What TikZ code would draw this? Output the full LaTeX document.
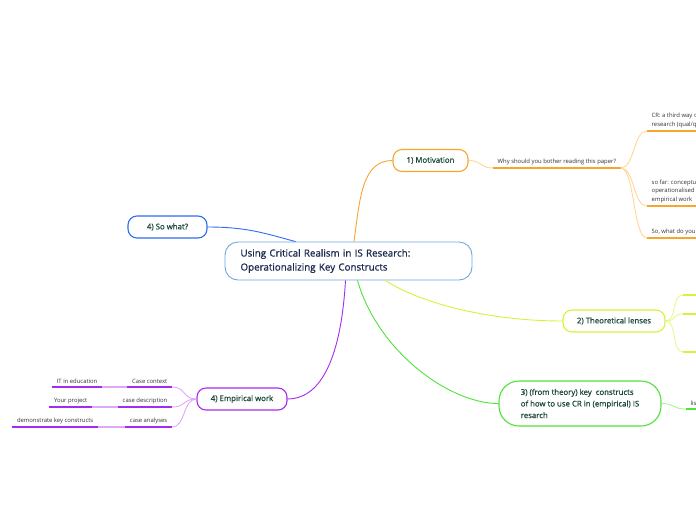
\documentclass[tikz,border=0pt]{standalone}
\usepackage{fontspec}
\setmainfont{Open Sans}
\newfontfamily\semibold{Open Sans}[FakeBold=0.9]
\definecolor{centreline}{HTML}{6FA8E0}
\definecolor{centretext}{HTML}{1C2B4F}
\definecolor{topictext}{HTML}{1D4A3E}
\definecolor{leaftext}{HTML}{333333}
\definecolor{motorange}{HTML}{F7A531}
\definecolor{motlight}{HTML}{FFD695}
\definecolor{whatblue}{HTML}{2F6BF2}
\definecolor{lensyellow}{HTML}{D6F23A}
\definecolor{lenslight}{HTML}{E8F78F}
\definecolor{keygreen}{HTML}{4FE23A}
\definecolor{keylight}{HTML}{A8F29A}
\definecolor{workpurple}{HTML}{A52CEE}
\definecolor{worklight}{HTML}{DCA9F7}
\begin{document}
\begin{tikzpicture}[x=1pt, y=-1pt,
	every node/.style={inner sep=0pt},
	centre/.style={rectangle, rounded corners=13pt, draw=centreline, line width=0.9pt, fill=white, text=centretext, font=\fontsize{9.8}{14}\semibold, align=left, text width=216pt, inner xsep=15.5pt, minimum height=38pt},
	topic/.style={rectangle, rounded corners=9pt, draw=#1, line width=1.1pt, fill=white, text=topictext, font=\fontsize{7.8}{11.6}\semibold, align=left, minimum height=22pt},
	leaf/.style={text=leaftext, font=\fontsize{5.9}{8.4}\selectfont, align=left, inner xsep=4.5pt, inner ysep=3pt},
	link/.style={draw=#1, line width=0.9pt},
	under/.style={draw=#1, line width=1.6pt},
]
\path [use as bounding box, clip] (0,0) rectangle (696,520);
\node [centre] (centre) at (348.5,261) {Using Critical Realism in IS Research:\\Operationalizing Key Constructs};
\node [topic=motorange, minimum width=75pt] (motivation) at (430.5,160.5) {1) Motivation};
\node [topic=whatblue, minimum width=79pt] (sowhat) at (167.5,227) {4) So what?};
\node [topic=lensyellow, minimum width=102pt] (lenses) at (614,321) {2) Theoretical lenses};
\node [topic=keygreen, minimum width=162pt, minimum height=45pt, rounded corners=20pt] (keys) at (580,403.5) {3) (from theory) key\ \ constructs\\of how to use CR in (empirical) IS\\resarch};
\node [topic=workpurple, minimum width=90pt] (work) at (242,399) {4) Empirical work};

\draw [link=motorange] ([xshift=5.5]centre.north) .. controls +(6,-45) and +(-30,0) .. (motivation.west);
\draw [link=whatblue] (sowhat.east) .. controls +(40,0) and +(-30,-8) .. ([xshift=-53]centre.north);
\draw [link=lensyellow] ([xshift=37]centre.south) .. controls +(30,20) and +(-80,0) .. (lenses.west);
\draw [link=keygreen] ([xshift=9]centre.south) .. controls +(20,70) and +(-50,0) .. (keys.west);
\draw [link=workpurple] ([xshift=-3]centre.south) .. controls +(-5,85) and +(30,0) .. (work.east);

\node [leaf, anchor=south west] (why) at (493,168) {Why should you bother reading this paper?};
\draw [link=motlight] (motivation.east) .. controls +(14,0) and +(-14,0) .. (why.south west);
\draw [under=motorange] (why.south west) -- (why.south east);
\node [leaf, anchor=south west] (thirdway) at (647,131) {CR: a third way o\\research (qual/q};
\node [leaf, anchor=south west] (sofar) at (647,206) {so far: conceptu\\operationalised\\empirical work};
\node [leaf, anchor=south west] (sowhatdo) at (647,238) {So, what do you};
\foreach \n in {thirdway, sofar, sowhatdo} {
	\draw [link=motlight] (why.south east) .. controls +(14,0) and +(-14,0) .. (\n.south west);
	\draw [under=motorange] (\n.south west) -- ++(60,0);
}

\coordinate (lens1) at (683,295);
\coordinate (lens2) at (683,314);
\coordinate (lens3) at (683,352);
\foreach \n in {lens1, lens2, lens3} {
	\draw [link=lenslight] (lenses.east) .. controls +(12,0) and +(-12,0) .. (\n);
	\draw [under=lensyellow] (\n) -- ++(20,0);
}

\node [leaf, anchor=south west] (listing) at (686,409) {lis};
\draw [link=keylight] (keys.east) .. controls +(14,0) and +(-14,0) .. (listing.south west);
\draw [under=keygreen] (listing.south west) -- ++(20,0);

\node [leaf, anchor=south east] (context) at (172,387) {Case context};
\node [leaf, anchor=south east] (description) at (172,407) {case description};
\node [leaf, anchor=south east] (analyses) at (172,427) {case analyses};
\node [leaf, anchor=south east] (education) at (102,387) {IT in education};
\node [leaf, anchor=south east] (project) at (92,407) {Your project};
\node [leaf, anchor=south east] (demonstrate) at (98,427) {demonstrate key constructs};
\foreach \n/\m in {context/education, description/project, analyses/demonstrate} {
	\draw [link=worklight] (work.west) .. controls +(-14,0) and +(14,0) .. (\n.south east);
	\draw [under=workpurple] (\n.south west) -- (\n.south east);
	\draw [under=worklight] (\n.south west) -- (\m.south east);
	\draw [under=workpurple] (\m.south west) -- (\m.south east);
}
\end{tikzpicture}
\end{document}
